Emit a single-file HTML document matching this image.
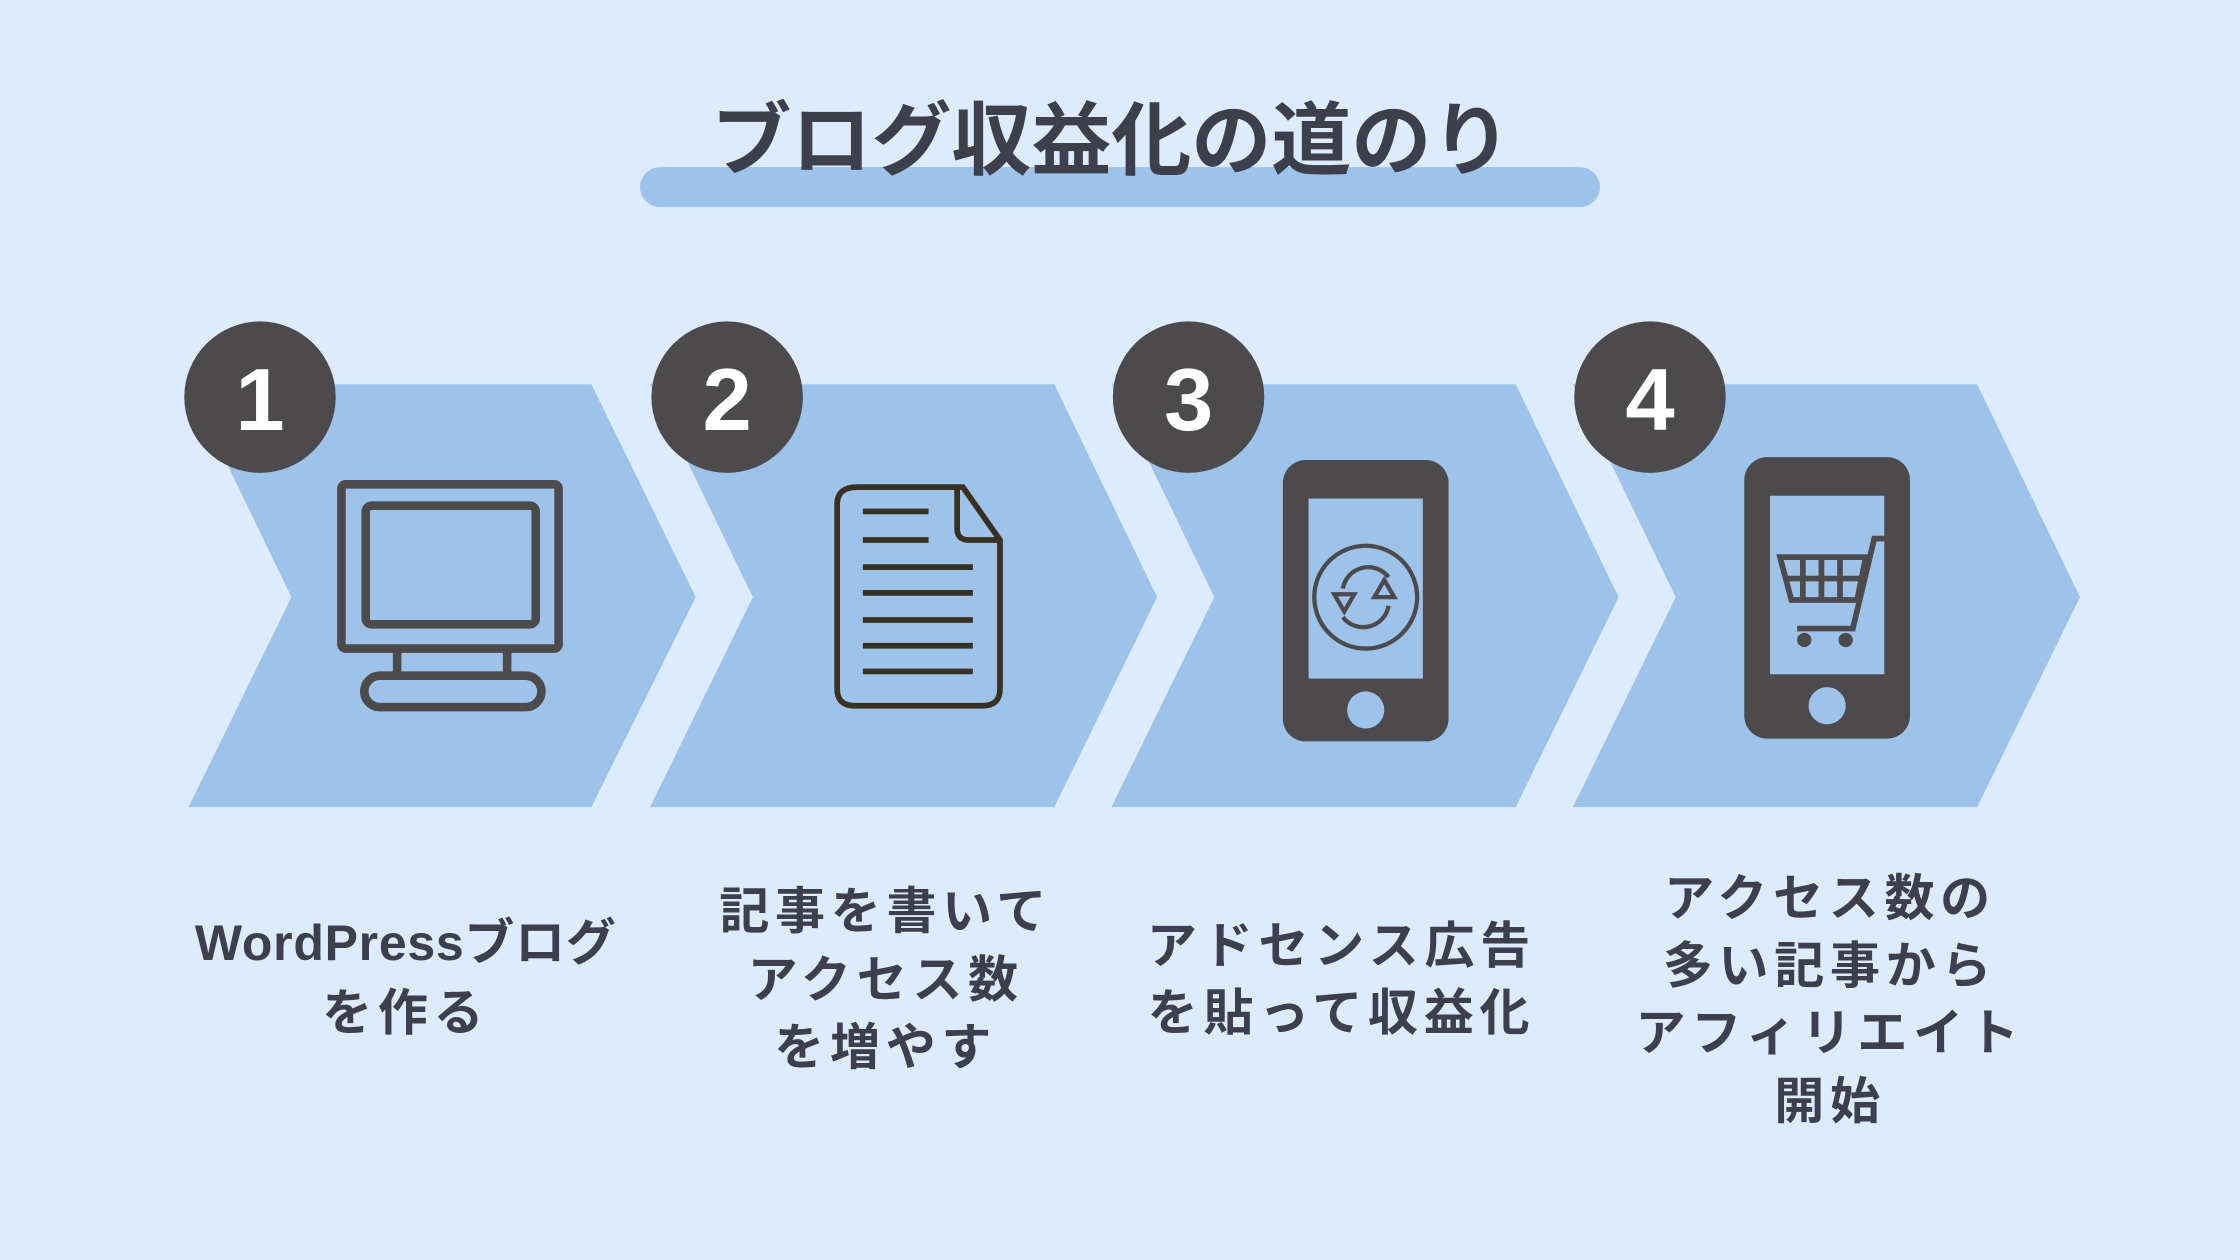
<!DOCTYPE html>
<html><head><meta charset="utf-8"><style>
html,body{margin:0;padding:0;background:#dcebfd;}
svg{display:block}
text{font-family:"Liberation Sans","Noto Sans CJK JP",sans-serif;font-weight:bold;}
</style></head><body>
<svg width="2240" height="1260" viewBox="0 0 1568 882" xmlns="http://www.w3.org/2000/svg">
<rect width="1568" height="882" fill="#dcebfd"/>
<rect x="448" y="117" width="672" height="28" rx="14" fill="#9dc3ea"/>
<text x="778" y="118" font-size="56" text-anchor="middle" fill="#3d3f4a">ブログ収益化の道のり</text>
<g fill="#9dc3ea">
<polygon points="132,269 414,269 487,418 414,565 132,565 204,418"/>
<polygon points="455,269 738,269 810,418 738,565 455,565 527,418"/>
<polygon points="778,269 1061,269 1133,418 1061,565 778,565 850,418"/>
<polygon points="1101,269 1384,269 1456,418 1384,565 1101,565 1173,418"/>
</g>
<g fill="#4d4a4c">
<circle cx="182" cy="278" r="53"/><circle cx="509" cy="278" r="53"/>
<circle cx="832" cy="278" r="53"/><circle cx="1155" cy="278" r="53"/>
</g>
<g fill="#fff" font-size="62" text-anchor="middle">
<text x="182" y="301">1</text><text x="509" y="301">2</text>
<text x="832" y="301">3</text><text x="1155" y="301">4</text>
</g>
<g fill="none" stroke="#4d4a4c" stroke-width="6">
<rect x="239" y="339" width="152" height="115" rx="3"/>
<rect x="256" y="354" width="119" height="83" rx="4"/>
<path d="M278 455 V472 M355 455 V472"/>
<rect x="255" y="473" width="124" height="22" rx="11"/>
</g>
<g fill="none" stroke="#3a3020" stroke-width="4">
<path d="M600 341 H674 L700 378 V482 Q700 494 688 494 H598 Q586 494 586 482 V353 Q586 341 600 341 Z"/>
<path d="M670 341 V370 Q670 378 678 378 H700"/>
<path d="M604 358 H650 M604 378 H650 M604 397 H681 M604 415 H681 M604 434 H681 M604 452 H681 M604 470 H681"/>
</g>
<rect x="898" y="322" width="116" height="197" rx="16" fill="#4d4a4c"/>
<rect x="916" y="349" width="80" height="126" fill="#9dc3ea"/>
<circle cx="956" cy="497" r="13" fill="#9dc3ea"/>
<g fill="none" stroke="#4d4a4c" stroke-width="3">
<circle cx="956" cy="418" r="36"/>
<path d="M940 412 A18 18 0 0 1 972 404"/><path d="M972 424 A18 18 0 0 1 940 432"/>
<path d="M934 416 L941 428 L948 416 Z"/><path d="M962 418 L969 406 L976 418 Z"/>
</g>
<rect x="1221" y="320" width="116" height="197" rx="16" fill="#4d4a4c"/>
<rect x="1239" y="347" width="80" height="125" fill="#9dc3ea"/>
<circle cx="1279" cy="494" r="13" fill="#9dc3ea"/>
<g fill="none" stroke="#4d4a4c" stroke-width="4">
<path d="M1320 377 H1312 L1297 440 H1258"/>
<path d="M1246 390 H1306 L1300 420 H1254 Z"/>
<path d="M1250 405 H1303 M1262 392 V420 M1275 392 V420 M1288 392 V420"/>
</g>
<circle cx="1263" cy="448" r="5" fill="#4d4a4c"/><circle cx="1292" cy="448" r="5" fill="#4d4a4c"/>
<g fill="#3d3f4a" font-size="35" text-anchor="middle" letter-spacing="4">
<text x="284" y="672" letter-spacing="0.5">WordPressブログ</text><text x="284" y="721">を作る</text>
<text x="620" y="650">記事を書いて</text><text x="620" y="698">アクセス数</text><text x="620" y="745">を増やす</text>
<text x="939" y="674">アドセンス広告</text><text x="939" y="721">を貼って収益化</text>
<text x="1281" y="641">アクセス数の</text><text x="1281" y="688">多い記事から</text><text x="1281" y="735">アフィリエイト</text><text x="1281" y="783">開始</text>
</g>
</svg>
</body></html>
